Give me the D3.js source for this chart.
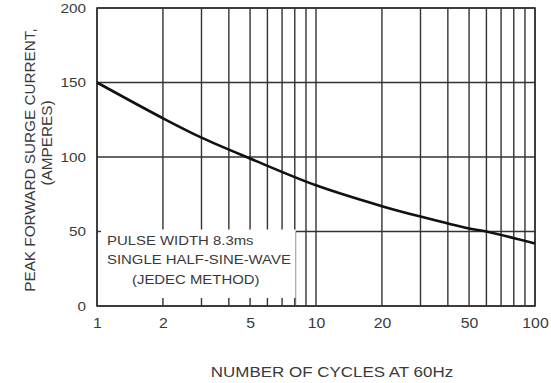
<!DOCTYPE html>
<html>
<head>
<meta charset="utf-8">
<script src="https://cdn.jsdelivr.net/npm/d3@7/dist/d3.min.js"></script>
<style>
  body { margin: 0; background: #fff; }
  text { font-family: "Liberation Sans", Arial, sans-serif; fill: #3a3a3a; }
</style>
</head>
<body>
<div id="chart"></div>
<script>
// surge current vs number of cycles
const cycles = [1, 2, 3, 5, 10, 20, 30, 50, 60, 100];
const amps = [150, 126, 113, 99, 81, 67, 60, 52, 50, 42];

const xTickValues = [1, 2, 5, 10, 20, 50, 100];
const yTickValues = [0, 50, 100, 150, 200];
const xGridValues = [1, 2, 3, 4, 5, 6, 7, 8, 9, 10, 20, 30, 40, 50, 60, 70, 80, 90, 100];

const noteLines = ["PULSE WIDTH 8.3ms", "SINGLE HALF-SINE-WAVE", "(JEDEC METHOD)"];

const width = 551, height = 383;
const margin = {top: 8, right: 16, bottom: 77, left: 97};
const w = width - margin.left - margin.right,
    h = height - margin.top - margin.bottom;

// the scanned datasheet font is a little wider than Arial
const stretch = 1.13;
function widen(sel, k) {
    sel.each(function() {
        const len = this.getComputedTextLength();
        d3.select(this)
            .attr("textLength", len * k)
            .attr("lengthAdjust", "spacingAndGlyphs");
    });
}

const svg = d3.select("#chart")
    .append("svg")
    .attr("width", width)
    .attr("height", height);

const g = svg.append("g")
    .attr("transform", `translate(${margin.left},${margin.top})`);

const x = d3.scaleLog().domain([1, 100]).range([0, w]);
const y = d3.scaleLinear().domain([0, 200]).range([h, 0]);

const gridColor = "#333";

// vertical grid
g.selectAll(".vgrid")
    .data(xGridValues)
    .enter().append("line")
    .attr("class", "vgrid")
    .attr("x1", d => x(d)).attr("x2", d => x(d))
    .attr("y1", 0).attr("y2", h)
    .attr("stroke", gridColor)
    .attr("stroke-width", 1.4);

// horizontal grid
g.selectAll(".hgrid")
    .data(yTickValues)
    .enter().append("line")
    .attr("class", "hgrid")
    .attr("x1", 0).attr("x2", w)
    .attr("y1", d => y(d)).attr("y2", d => y(d))
    .attr("stroke", gridColor)
    .attr("stroke-width", 1.4);

// white note box covering lower left grid
const boxRight = x(8) + 1;
const boxTop = y(50) - 2;
g.append("rect")
    .attr("x", 1)
    .attr("y", boxTop)
    .attr("width", boxRight - 1)
    .attr("height", h - boxTop - 1)
    .attr("fill", "#fff");

g.append("line")
    .attr("x1", boxRight).attr("x2", boxRight)
    .attr("y1", y(50)).attr("y2", h)
    .attr("stroke", "#999")
    .attr("stroke-width", 1);

// short ticks along the bottom inside the box
g.selectAll(".btick")
    .data(xGridValues.filter(d => d > 1 && d <= 8))
    .enter().append("line")
    .attr("x1", d => x(d)).attr("x2", d => x(d))
    .attr("y1", h - 8).attr("y2", h)
    .attr("stroke", gridColor)
    .attr("stroke-width", 1.4);

g.append("line")
    .attr("x1", 0).attr("x2", 4)
    .attr("y1", y(50)).attr("y2", y(50))
    .attr("stroke", gridColor)
    .attr("stroke-width", 1.4);

// frame
g.append("rect")
    .attr("x", 0).attr("y", 0)
    .attr("width", w).attr("height", h)
    .attr("fill", "none")
    .attr("stroke", gridColor)
    .attr("stroke-width", 1.6);

// note text
const noteX = [10, 10, 35];
g.selectAll(".note")
    .data(noteLines)
    .enter().append("text")
    .attr("class", "note")
    .attr("x", (d, i) => noteX[i])
    .attr("y", (d, i) => boxTop + 15 + i * 19.5)
    .attr("font-size", 13.2)
    .text(d => d)
    .call(widen, 1.13);

// curve
const line = d3.line()
    .x((d, i) => x(cycles[i]))
    .y(d => y(d))
    .curve(d3.curveCatmullRom.alpha(0.5));

g.append("path")
    .datum(amps)
    .attr("d", line)
    .attr("fill", "none")
    .attr("stroke", "#111")
    .attr("stroke-width", 2.6);

// axes labels
const xAxis = d3.axisBottom(x)
    .tickValues(xTickValues)
    .tickFormat(d3.format("d"))
    .tickSize(0)
    .tickPadding(12);

g.append("g")
    .attr("transform", `translate(0,${h})`)
    .call(xAxis)
    .call(a => a.select(".domain").remove())
    .selectAll("text")
    .attr("font-size", 14)
    .attr("font-family", "Liberation Sans, Arial, sans-serif")
    .attr("fill", "#3a3a3a")
    .call(widen, stretch);

const yAxis = d3.axisLeft(y)
    .tickValues(yTickValues)
    .tickSize(0)
    .tickPadding(11);

g.append("g")
    .call(yAxis)
    .call(a => a.select(".domain").remove())
    .selectAll("text")
    .attr("font-size", 13.5)
    .attr("font-family", "Liberation Sans, Arial, sans-serif")
    .attr("fill", "#3a3a3a")
    .call(widen, stretch);

// axis titles
svg.append("text")
    .attr("x", 332)
    .attr("y", 377)
    .attr("text-anchor", "middle")
    .attr("font-size", 15)
    .text("NUMBER OF CYCLES AT 60Hz")
    .call(widen, stretch);

svg.append("text")
    .attr("transform", "translate(35,160) rotate(-90)")
    .attr("text-anchor", "middle")
    .attr("font-size", 15.3)
    .text("PEAK FORWARD SURGE CURRENT,");

svg.append("text")
    .attr("transform", "translate(52,143) rotate(-90)")
    .attr("text-anchor", "middle")
    .attr("font-size", 15.3)
    .text("(AMPERES)");
</script>
</body>
</html>
